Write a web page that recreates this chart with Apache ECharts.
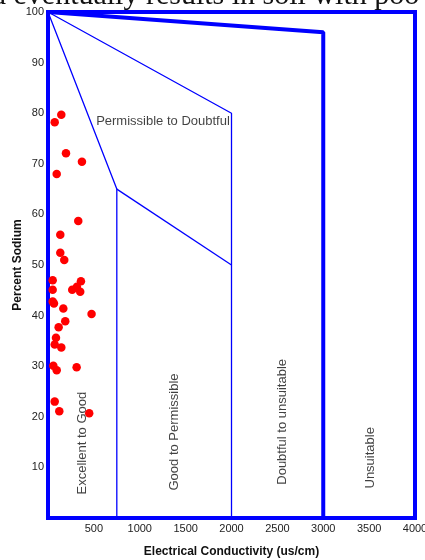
<!DOCTYPE html>
<html lang="en">
<head>
    <meta charset="UTF-8">
    <title>Wilcox diagram</title>
    <script src="https://cdn.jsdelivr.net/npm/echarts@6/dist/echarts.min.js"></script>
</head>
<body style="margin: 0">
<div id="main" style="width: 425px;height: 560px"></div>
</body>

<script>
    // sample points: [EC (us/cm), percent sodium]
    const samples = [
        [145, 79.7], [73, 78.2], [196, 72.1], [370, 70.4], [95, 68.0],
        [330, 58.7], [134, 56.0], [134, 52.4], [177, 51.0],
        [51, 47.0], [51, 45.1], [359, 46.8], [315, 45.7], [264, 45.1], [351, 44.7],
        [51, 42.8], [65, 42.4], [167, 41.4], [475, 40.3], [188, 38.9],
        [116, 37.7], [87, 35.6], [73, 34.3], [145, 33.7],
        [58, 30.1], [95, 29.2], [312, 29.8],
        [73, 23.0], [123, 21.1], [449, 20.7]
    ];

    // class boundaries
    const thickBoundary = [[0, 100], [3000, 96], [3000, 0]];
    const boundaryA = [[0, 100], [750, 65], [750, 0]];
    const boundaryB = [[0, 100], [2000, 80], [2000, 0]];
    const boundaryC = [[750, 65], [2000, 50]];

    // class names and where they sit
    const zoneNames = ['Excellent to Good', 'Good to Permissible', 'Doubtful to unsuitable', 'Unsuitable'];
    const zonePos = [[370, 14.8], [1373, 17], [2550, 19], [3510, 11.9]];
    const topZone = ['Permissible to Doubtful', [1253, 78.3]];

    const blue = '#0000ff';
    const chart = echarts.init(document.getElementById('main'));

    const lineSeries = (data, width) => ({
        type: 'line',
        data: data,
        symbol: 'none',
        silent: true,
        lineStyle: {color: blue, width: width},
        z: 3
    });

    let option = {
        animation: false,
        textStyle: {fontFamily: 'Liberation Sans, Arial, sans-serif'},
        graphic: [{
            type: 'text',
            left: -9,
            top: -19,
            style: {
                text: 'd eventually results in soil with poo',
                font: '30px "Liberation Serif", "Times New Roman", serif',
                fill: '#111'
            }
        }],
        grid: {
            left: 48, right: 10, top: 12, bottom: 42,
            outerBoundsMode: 'none',
            containLabel: false,
            show: true,
            borderColor: blue,
            borderWidth: 4
        },
        xAxis: {
            type: 'value',
            min: 0, max: 4000, interval: 500,
            name: 'Electrical Conductivity (us/cm)',
            nameLocation: 'middle',
            nameGap: 28,
            nameMoveOverlap: false,
            nameTextStyle: {fontSize: 12, fontWeight: 'bold', color: '#111'},
            axisLine: {show: false},
            axisTick: {show: false},
            splitLine: {show: false},
            axisLabel: {
                fontSize: 11, color: '#222', margin: 5,
                formatter: v => v === 0 ? '' : v
            }
        },
        yAxis: {
            type: 'value',
            min: 0, max: 100, interval: 10,
            name: 'Percent Sodium',
            nameLocation: 'middle',
            nameGap: 24,
            nameMoveOverlap: false,
            nameTextStyle: {fontSize: 12, fontWeight: 'bold', color: '#111'},
            axisLine: {show: false},
            axisTick: {show: false},
            splitLine: {show: false},
            axisLabel: {
                fontSize: 11, color: '#222', margin: 4,
                formatter: v => v === 0 ? '' : v
            }
        },
        series: [
            lineSeries(thickBoundary, 4),
            lineSeries(boundaryA, 1.3),
            lineSeries(boundaryB, 1.3),
            lineSeries(boundaryC, 1.3),
            {
                type: 'scatter',
                data: zoneNames.map((n, i) => ({name: n, value: zonePos[i]})),
                symbolSize: 1,
                silent: true,
                itemStyle: {color: 'rgba(0,0,0,0)'},
                label: {
                    show: true, position: 'inside', rotate: 90,
                    formatter: p => p.name,
                    fontSize: 13, color: '#111'
                }
            },
            {
                type: 'scatter',
                data: [{name: topZone[0], value: topZone[1]}],
                symbolSize: 1,
                silent: true,
                itemStyle: {color: 'rgba(0,0,0,0)'},
                label: {
                    show: true, position: 'inside',
                    formatter: p => p.name,
                    fontSize: 13, color: '#111'
                }
            },
            {
                type: 'scatter',
                data: samples,
                symbolSize: 8.5,
                itemStyle: {color: '#ff0000', opacity: 1},
                z: 5
            }
        ]
    };

    option && chart.setOption(option);
</script>

</html>
